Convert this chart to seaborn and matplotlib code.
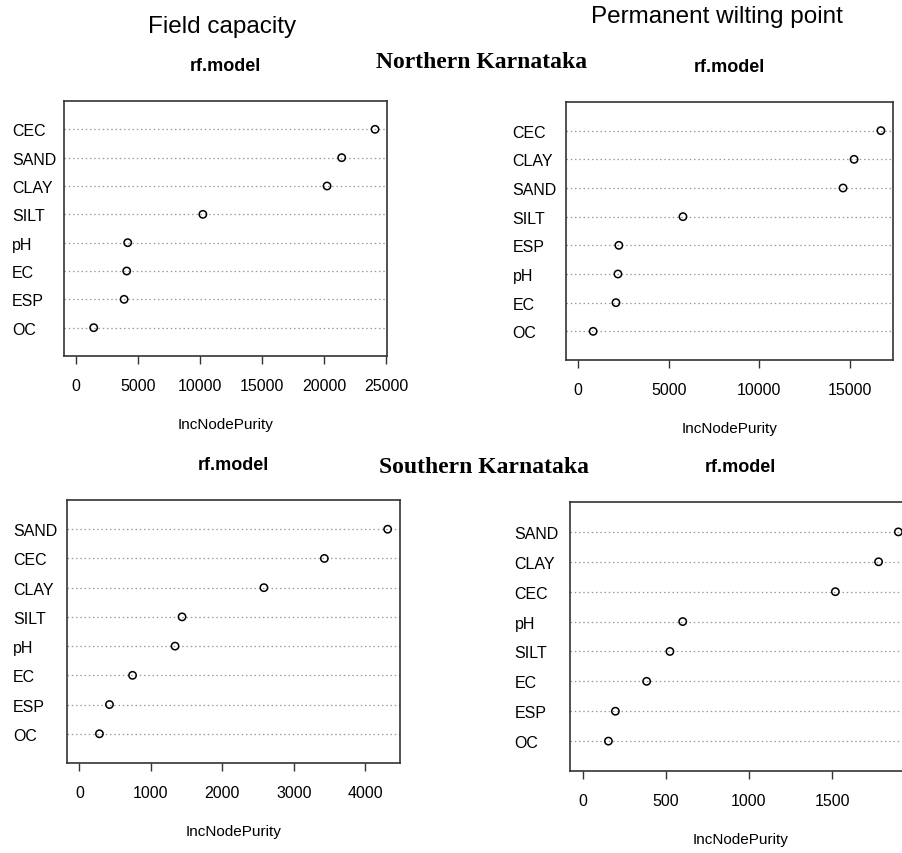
import matplotlib
matplotlib.use("Agg")
import matplotlib.pyplot as plt
import seaborn as sns

# variable importance (IncNodePurity), listed top to bottom as in each panel
fc_north_vars = ["CEC", "SAND", "CLAY", "SILT", "pH", "EC", "ESP", "OC"]
fc_north_vals = [24110, 21420, 20240, 10230, 4170, 4090, 3880, 1430]

pwp_north_vars = ["CEC", "CLAY", "SAND", "SILT", "ESP", "pH", "EC", "OC"]
pwp_north_vals = [16720, 15240, 14630, 5790, 2250, 2200, 2090, 830]

fc_south_vars = ["SAND", "CEC", "CLAY", "SILT", "pH", "EC", "ESP", "OC"]
fc_south_vals = [4310, 3425, 2580, 1436, 1338, 744, 421, 281]

pwp_south_vars = ["SAND", "CLAY", "CEC", "pH", "SILT", "EC", "ESP", "OC"]
pwp_south_vals = [1899, 1780, 1520, 602, 525, 385, 197, 155]

W, H = 902, 854

sns.set_style("white")
plt.rcParams['font.family'] = ['Liberation Sans', 'DejaVu Sans']
plt.rcParams['text.color'] = 'black'
plt.rcParams['axes.labelcolor'] = 'black'
plt.rcParams['xtick.color'] = 'black'
plt.rcParams['ytick.color'] = 'black'

fig = plt.figure(figsize=(W / 100, H / 100), dpi=100)


def box(x0, y0, x1, y1):
    # pixel box (top-left origin) -> figure fractions
    return [x0 / W, 1 - y1 / H, (x1 - x0) / W, (y1 - y0) / H]


def dot_panel(rect, names, vals, ticks, ylab_pad):
    ax = fig.add_axes(box(*rect))
    # bottom-first so the first entry lands on top
    names_b = names[::-1]
    vals_b = vals[::-1]
    for n in names_b:
        ax.axhline(names_b.index(n), color="#9a9a9a", lw=0.9,
                   ls=(0, (1.2, 2.2)), zorder=1)
    sns.scatterplot(x=vals_b, y=names_b, ax=ax, marker="o", s=28,
                    facecolor="none", edgecolor="black", linewidth=1.1,
                    zorder=3)
    vmax = max(vals)
    ax.set_xlim(-0.04 * vmax, 1.04 * vmax)
    ax.set_ylim(-1, len(names))
    ax.set_xticks(ticks)
    ax.set_xticklabels([str(t) for t in ticks])
    ax.tick_params(axis="x", direction="out", length=6, width=1,
                   color="#333333", pad=10, labelsize=11.5, bottom=True)
    ax.tick_params(axis="y", length=0, pad=ylab_pad, labelsize=11.5)
    for tl in ax.get_yticklabels():
        tl.set_ha("left")
    for sp in ax.spines.values():
        sp.set_color("#333333")
        sp.set_linewidth(1.2)
    ax.set_xlabel("IncNodePurity", fontsize=11, labelpad=17)
    ax.set_ylabel("")
    ax.set_title("rf.model", fontsize=13, fontweight="bold", pad=22)
    ax.grid(False)
    return ax


dot_panel((64, 102, 387, 357), fc_north_vars, fc_north_vals,
          [0, 5000, 10000, 15000, 20000, 25000], 37.4)
dot_panel((566, 103, 893, 361), pwp_north_vars, pwp_north_vals,
          [0, 5000, 10000, 15000], 38.4)
dot_panel((67, 501, 400, 764), fc_south_vars, fc_south_vals,
          [0, 1000, 2000, 3000, 4000], 39)
dot_panel((570, 503, 911, 772), pwp_south_vars, pwp_south_vals,
          [0, 500, 1000, 1500], 40)

fig.text(222 / W, 1 - 33 / H, "Field capacity", fontsize=17.5,
         ha="center", va="baseline")
fig.text(717 / W, 1 - 23 / H, "Permanent wilting point", fontsize=17.5,
         ha="center", va="baseline")
fig.text(481.5 / W, 1 - 68.3 / H, "Northern Karnataka", fontsize=17,
         fontweight="bold", family="Liberation Serif", ha="center",
         va="baseline")
fig.text(484 / W, 1 - 473.3 / H, "Southern Karnataka", fontsize=17,
         fontweight="bold", family="Liberation Serif", ha="center",
         va="baseline")

plt.savefig("out.png", dpi=100)
